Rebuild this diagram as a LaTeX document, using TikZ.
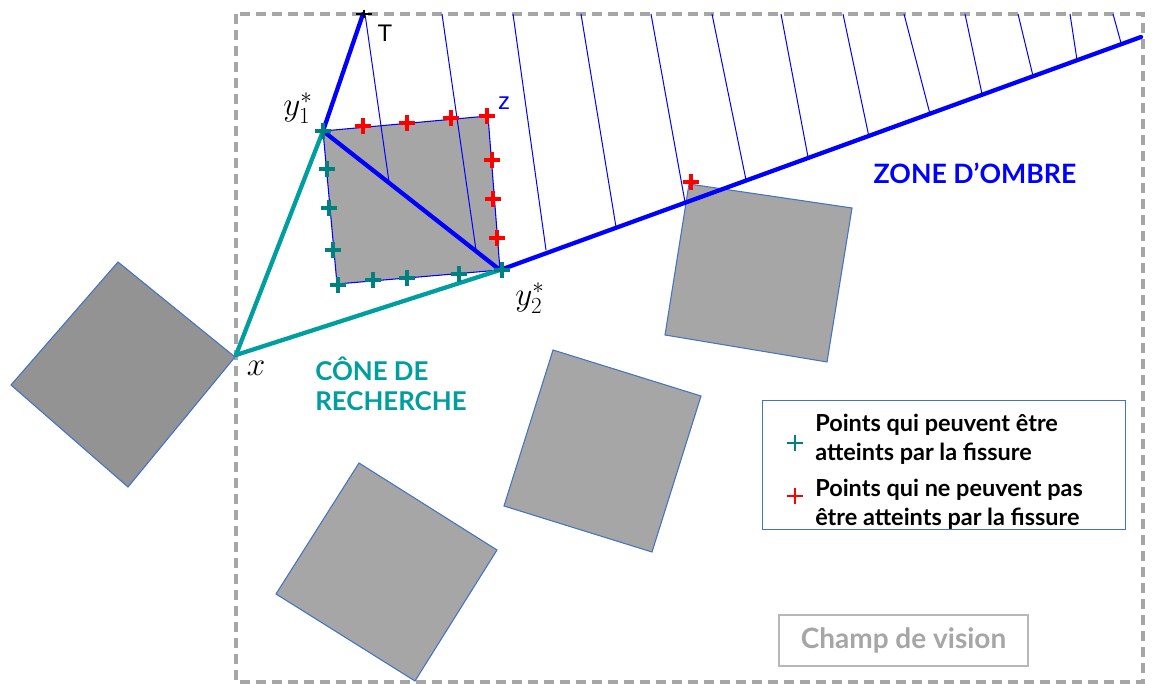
\documentclass[tikz,border=0pt]{standalone}
\usepackage{fontspec}
\setmainfont{Lato}
\newfontfamily\arialf{Liberation Sans}
\definecolor{shadowblue}{RGB}{0,0,255}
\definecolor{coneteal}{RGB}{0,158,158}
\definecolor{ptteal}{RGB}{0,128,128}
\definecolor{framegray}{RGB}{166,166,166}
\definecolor{obst}{RGB}{166,166,166}
\definecolor{obstdark}{RGB}{147,147,147}
\definecolor{edgeblue}{RGB}{68,114,196}
\tikzset{
  obstacle/.style={fill=obst, draw=edgeblue, line width=0.8pt, line join=miter},
  thickblue/.style={draw=shadowblue, line width=3.2pt, line cap=round},
  conel/.style={draw=coneteal, line width=3.2pt, line cap=round},
  hatch/.style={draw=shadowblue, line width=0.75pt},
  plusmark/.pic={\draw[line width=3.3pt] (-8,0)--(8,0) (0,-8)--(0,8);},
  legplus/.pic={\draw[line width=1.6pt] (-8,0)--(8,0) (0,-8)--(0,8);},
  mathlbl/.style={font=\fontsize{24}{28}\selectfont, inner sep=0pt},
  bigtxt/.style={font=\fontsize{20}{23}\selectfont\bfseries, inner sep=0pt},
}
\begin{document}
\begin{tikzpicture}[x=0.75pt,y=-0.75pt]
\useasboundingbox (0,0) rectangle (1152,684);
% field of view
\draw[framegray, line width=2.4pt, dash pattern=on 7.5pt off 4.5pt] (236,14) rectangle (1143,682);
% key points
\coordinate (x) at (236,355);
\coordinate (y1) at (323,131);
\coordinate (y2) at (500,270);
\coordinate (T) at (363,14);
\coordinate (E) at (1141,37);
\coordinate (z) at (488,116);
\coordinate (zb) at (337,284);
% obstacles
\draw[obstacle, fill=obstdark] (118,262) -- (235,357) -- (128,487) -- (11,385) -- cycle;
\draw[obstacle] (689,184) -- (852,208) -- (827,362) -- (665,335) -- cycle;
\draw[obstacle] (553,350) -- (701,396) -- (652,552) -- (504,506) -- cycle;
\draw[obstacle] (359,463) -- (497,550) -- (415,681) -- (276,594) -- cycle;
\draw[fill=obst, draw=shadowblue, line width=0.8pt] (y1) -- (z) -- (y2) -- (zb) -- cycle;
% hatching of the shadow zone
\foreach \a/\b/\c/\d in {365/14/389/182, 442/14/476/250, 513/14/546/250, 581/14/616/227,
  651/14/685/202, 712/14/746/180, 781/14/808/157, 843/14/869/137, 904/14/930/114,
  965/14/982/94, 1018/14/1033/76, 1070/14/1077/60, 1113/14/1121/43}
  \draw[hatch] (\a,\b) -- (\c,\d);
% cone
\draw[conel] (x) -- (y1);
\draw[conel] (x) -- (y2);
% shadow boundary
\draw[thickblue] (T) -- (y1);
\draw[thickblue] (y1) -- (y2);
\draw[thickblue] (y2) -- (E);
% T marker
\draw[black, line width=1.5pt] (356,14) -- (372,14) (364,10) -- (364,18);
% points
\foreach \p in {{(327,169)},{(329,208)},{(333,250)},{(338,285)},{(373,280)},{(407,278)},{(459,274)},{(323,131)},{(502,270)}}
  \pic[ptteal] at \p {plusmark};
\foreach \p in {{(363,126)},{(407,123)},{(451,118)},{(487,116)},{(492,160)},{(493,199)},{(497,238)},{(691,182)}}
  \pic[red] at \p {plusmark};
% labels
\node[font=\arialf\fontsize{18}{20}\selectfont, inner sep=0pt] (Tl) at (385,33) {T};
\node[font=\arialf\fontsize{18}{20}\selectfont, inner sep=0pt, text=shadowblue] (zl) at (504,103) {z};
\node[mathlbl] (y1l) at (298,108) {$y_1^*$};
\node[mathlbl] (y2l) at (530,298) {$y_2^*$};
\node[mathlbl] (xl) at (256,368) {$x$};
\node[bigtxt, text=shadowblue] (zone) at (975,173) {ZONE D’OMBRE};
\node[bigtxt, font=\fontsize{19.4}{22.5}\selectfont\bfseries, text=coneteal, align=left, anchor=west] (cone) at (315,384) {CÔNE DE\\RECHERCHE};
% legend
\node[draw=edgeblue, line width=0.8pt, minimum width=363*0.75pt, minimum height=129*0.75pt, anchor=north west, inner sep=0pt] (leg) at (762,400) {};
\pic[ptteal] at (795,443) {legplus};
\pic[red] at (795,496) {legplus};
\node[anchor=west, align=left, inner sep=0pt, font=\fontsize{17.6}{22}\selectfont\bfseries] (l1) at (815,439) {Points qui peuvent être\\atteints par la fissure};
\node[anchor=west, align=left, inner sep=0pt, font=\fontsize{17.6}{22}\selectfont\bfseries] (l2) at (815,504) {Points qui ne peuvent pas\\être atteints par la fissure};
% field of view label
\node[draw=framegray!80, line width=0.8pt, minimum width=249*0.75pt, minimum height=51*0.75pt, inner sep=0pt, text=framegray, font=\fontsize{21}{24}\selectfont\bfseries] (cv) at (903.5,640.5) {Champ de vision};
\end{tikzpicture}
\end{document}
